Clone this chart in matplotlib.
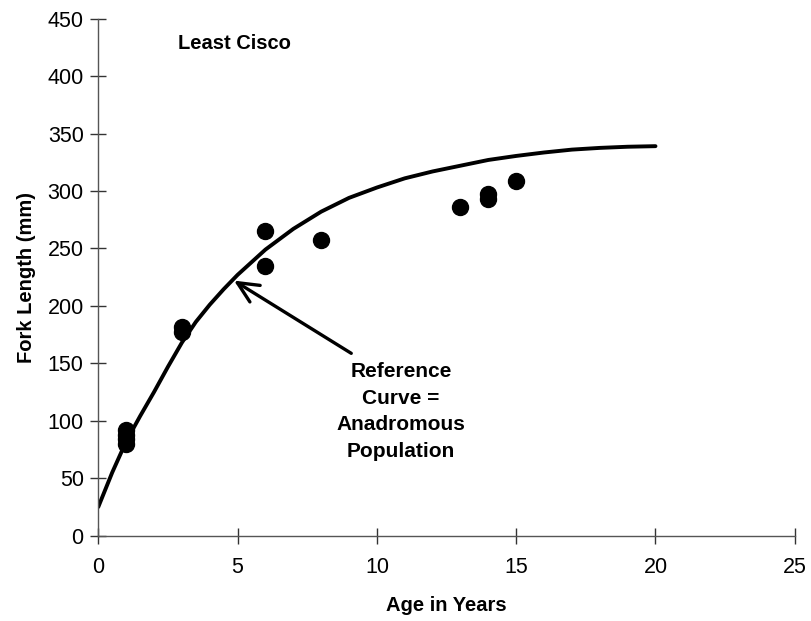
import numpy as np
import matplotlib.pyplot as plt

plt.rcParams['font.family'] = ['Liberation Sans', 'DejaVu Sans']

# datos observados (edad, largo a la horquilla)
edad = [1, 1, 1, 1, 3, 3, 6, 6, 8, 13, 14, 14, 15]
largo = [80, 84, 88, 92, 177, 182, 265, 235, 257, 286, 293, 297, 309]

# curva de referencia (poblacion anadroma)
edad_ref = [0, 0.5, 1, 1.5, 2, 2.5, 3, 3.5, 4, 4.5, 5, 6, 7, 8, 9, 10,
            11, 12, 13, 14, 15, 16, 17, 18, 19, 20]
largo_ref = [25, 55, 82, 104, 125, 147, 168, 186, 201, 214.5, 227, 249, 267,
             282, 294, 303, 311, 317, 322, 327, 330.5, 333.5, 336, 337.5,
             338.5, 339]

fig = plt.figure(figsize=(8.11, 6.21), dpi=100)
ax = fig.add_axes([0.1212, 0.1374, 0.8588, 0.8326])

ax.plot(edad_ref, largo_ref, color='black', lw=2.8, solid_capstyle='round',
        solid_joinstyle='round')
ax.plot(edad, largo, 'o', color='black', ms=11.5)

ax.set_xlim(0, 25)
ax.set_ylim(0, 450)
ax.set_xticks(np.arange(0, 26, 5))
ax.set_yticks(np.arange(0, 451, 50))

for s in ['top', 'right']:
    ax.spines[s].set_visible(False)
for s in ['left', 'bottom']:
    ax.spines[s].set_color('#555555')
    ax.spines[s].set_linewidth(1.0)
ax.tick_params(direction='inout', length=11, width=1.0, color='#333333',
               labelsize=15.5)
ax.tick_params(axis='x', pad=10)
ax.tick_params(axis='y', pad=5)

ax.set_xlabel('Age in Years', fontsize=14.5, fontweight='bold', labelpad=13)
ax.set_ylabel('Fork Length (mm)', fontsize=14.5, fontweight='bold', labelpad=8)

ax.text(2.86, 428, 'Least Cisco', fontsize=14.5, fontweight='bold',
        ha='left', va='center')

ax.annotate('', xy=(4.87, 222), xytext=(9.08, 158.7),
            arrowprops=dict(arrowstyle='->,head_length=1.5,head_width=0.7',
                            color='black', lw=2.4, shrinkA=0, shrinkB=0))
ax.text(10.87, 108, 'Reference\nCurve =\nAnadromous\nPopulation',
        fontsize=15, fontweight='bold', ha='center', va='center',
        linespacing=1.5)

fig.savefig('out.png', dpi=100)
